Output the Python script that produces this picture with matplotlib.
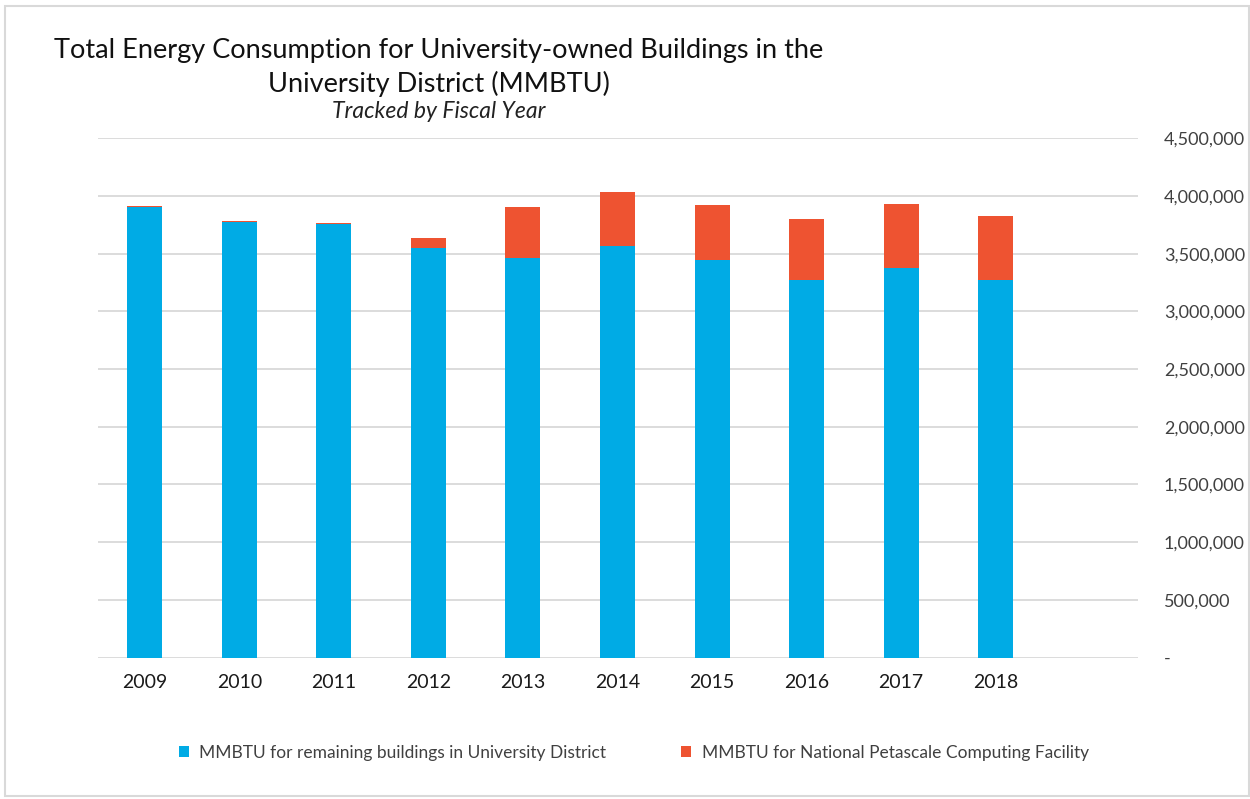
import matplotlib.pyplot as plt
from matplotlib.patches import Rectangle
from matplotlib.ticker import FuncFormatter

# Data (MMBTU)
years = ["2009", "2010", "2011", "2012", "2013", "2014", "2015", "2016", "2017", "2018"]
remaining = [3908000, 3778000, 3757000, 3549000, 3465000, 3566000, 3442000, 3274000, 3378000, 3274000]
petascale = [9000, 8000, 12000, 84000, 443000, 469000, 477000, 524000, 556000, 556000]

blue = "#00ABE5"
red = "#EE5331"

plt.rcParams["font.family"] = ["Lato", "DejaVu Sans"]

fig = plt.figure(figsize=(12.5, 7.99), dpi=100)
ax = fig.add_axes([0.078, 0.177, 0.832, 0.650])

x = list(range(len(years)))
ax.bar(x, remaining, width=0.37, color=blue, label="MMBTU for remaining buildings in University District", zorder=3)
ax.bar(x, petascale, width=0.37, bottom=remaining, color=red,
       label="MMBTU for National Petascale Computing Facility", zorder=3)

ax.set_xlim(-0.5, 10.5)
ax.set_ylim(0, 4500000)
ax.set_yticks(range(0, 4500001, 500000))
ax.yaxis.set_major_formatter(FuncFormatter(lambda v, p: "-" if v == 0 else f"{int(v):,}"))
ax.yaxis.tick_right()
ax.grid(axis="y", color="#D9D9D9", linewidth=1.3, zorder=0)
ax.set_xticks(x)
ax.set_xticklabels(years, fontsize=14)
ax.tick_params(axis="x", length=0, pad=12, colors="#1a1a1a")
ax.tick_params(axis="y", length=0, pad=19, labelsize=13, colors="#404040")
for lab in ax.get_yticklabels():
    lab.set_horizontalalignment("left")
for s in ax.spines.values():
    s.set_visible(False)

fig.text(0.351, 0.937, "Total Energy Consumption for University-owned Buildings in the",
         ha="center", va="center", fontsize=19.5, color="#111111")
fig.text(0.351, 0.895, "University District (MMBTU)",
         ha="center", va="center", fontsize=19.5, color="#111111")
fig.text(0.351, 0.860, "Tracked by Fiscal Year",
         ha="center", va="center", fontsize=16.5, style="italic", color="#222222")

fig.legend(loc="center", bbox_to_anchor=(0.507, 0.058), ncol=2, frameon=False,
           fontsize=12.5, handlelength=0.6, handleheight=0.6, columnspacing=4.3,
           handletextpad=0.6, labelcolor="#404040")

fig.patches.append(Rectangle((0.004, 0.004), 0.995, 0.988, transform=fig.transFigure,
                             fill=False, edgecolor="#D9D9D9", linewidth=1.5))

fig.savefig("out.png", dpi=100)
